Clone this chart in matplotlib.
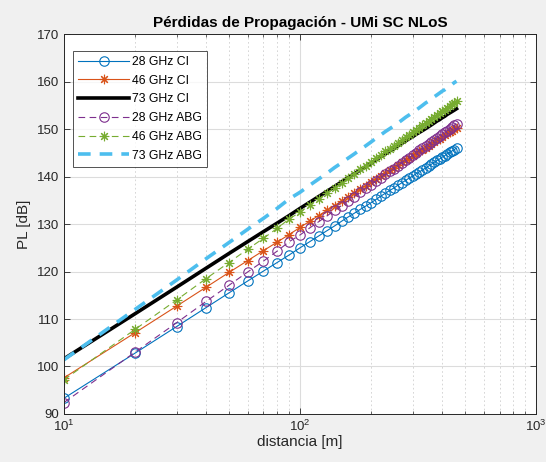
import matplotlib
matplotlib.use("Agg")
import matplotlib.pyplot as plt
from matplotlib.ticker import LogLocator, NullFormatter

plt.rcParams['font.family'] = ['Liberation Sans', 'DejaVu Sans']
plt.rcParams['mathtext.fontset'] = 'custom'
plt.rcParams['mathtext.rm'] = 'Liberation Sans'
plt.rcParams['mathtext.it'] = 'Liberation Sans:italic'
plt.rcParams['mathtext.bf'] = 'Liberation Sans:bold'

# distance axis [m]
distancia = list(range(10, 461, 10))

# path loss [dB], close-in (CI) model
pl_28_ci = [93.3, 102.8, 108.4, 112.4, 115.5, 118.0, 120.1, 121.9, 123.5, 125.0,
            126.3, 127.5, 128.6, 129.6, 130.6, 131.5, 132.3, 133.1, 133.8, 134.5,
            135.2, 135.9, 136.5, 137.1, 137.6, 138.2, 138.7, 139.2, 139.7, 140.1,
            140.6, 141.0, 141.4, 141.8, 142.2, 142.6, 143.0, 143.4, 143.7, 144.1,
            144.4, 144.8, 145.1, 145.4, 145.7, 146.0]
pl_46_ci = [97.6, 107.1, 112.7, 116.7, 119.8, 122.3, 124.4, 126.2, 127.8, 129.3,
            130.6, 131.8, 132.9, 133.9, 134.9, 135.8, 136.6, 137.4, 138.1, 138.8,
            139.5, 140.2, 140.8, 141.4, 141.9, 142.5, 143.0, 143.5, 144.0, 144.4,
            144.9, 145.3, 145.7, 146.1, 146.5, 146.9, 147.3, 147.7, 148.0, 148.4,
            148.7, 149.1, 149.4, 149.7, 150.0, 150.3]
pl_73_ci = [101.6, 111.1, 116.7, 120.7, 123.8, 126.3, 128.4, 130.2, 131.8, 133.3,
            134.6, 135.8, 136.9, 137.9, 138.9, 139.8, 140.6, 141.4, 142.1, 142.8,
            143.5, 144.2, 144.8, 145.4, 145.9, 146.5, 147.0, 147.5, 148.0, 148.4,
            148.9, 149.3, 149.7, 150.1, 150.5, 150.9, 151.3, 151.7, 152.0, 152.4,
            152.7, 153.1, 153.4, 153.7, 154.0, 154.3]

# path loss [dB], alpha-beta-gamma (ABG) model
pl_28_abg = [92.4, 103.0, 109.2, 113.7, 117.1, 119.9, 122.2, 124.3, 126.3, 127.7,
             129.2, 130.5, 131.7, 132.9, 133.9, 134.9, 135.8, 136.7, 137.5, 138.3,
             139.1, 139.8, 140.5, 141.1, 141.7, 142.3, 142.9, 143.5, 144.0, 144.5,
             145.0, 145.5, 146.0, 146.5, 146.9, 147.3, 147.8, 148.2, 148.6, 149.0,
             149.3, 149.7, 150.1, 150.4, 150.8, 151.1]
pl_46_abg = [97.2, 107.8, 114.0, 118.5, 121.9, 124.7, 127.0, 129.1, 131.1, 132.5,
             134.0, 135.3, 136.5, 137.7, 138.7, 139.7, 140.6, 141.5, 142.3, 143.1,
             143.9, 144.6, 145.3, 145.9, 146.5, 147.1, 147.7, 148.3, 148.8, 149.3,
             149.8, 150.3, 150.8, 151.3, 151.7, 152.1, 152.6, 153.0, 153.4, 153.8,
             154.1, 154.5, 154.9, 155.2, 155.6, 155.9]
pl_73_abg = [101.4, 112.0, 118.2, 122.7, 126.1, 128.9, 131.2, 133.3, 135.3, 136.7,
             138.2, 139.5, 140.7, 141.9, 142.9, 143.9, 144.8, 145.7, 146.5, 147.3,
             148.1, 148.8, 149.5, 150.1, 150.7, 151.3, 151.9, 152.5, 153.0, 153.5,
             154.0, 154.5, 155.0, 155.5, 155.9, 156.3, 156.8, 157.2, 157.6, 158.0,
             158.3, 158.7, 159.1, 159.4, 159.8, 160.1]

y_ticks = [90, 100, 110, 120, 130, 140, 150, 160, 170]

c_blue = '#0072BD'
c_orange = '#D95319'
c_purple = '#7E2F8E'
c_green = '#77AC30'
c_cyan = '#4DBEEE'

asterisk = (8, 2, 0)  # line-drawn asterisk marker

fig = plt.figure(figsize=(5.46, 4.62), dpi=100, facecolor='#f0f0f0')
ax = fig.add_axes([0.117, 0.104, 0.865, 0.822])
ax.set_facecolor('white')

ms = 6.8
ax.semilogx(distancia, pl_28_ci, '-', marker='o', color=c_blue, lw=0.8, ms=ms,
            mfc='none', mew=0.8, label='28 GHz CI')
ax.semilogx(distancia, pl_46_ci, '-', marker=asterisk, color=c_orange, lw=0.8,
            ms=ms, mew=0.8, label='46 GHz CI')
ax.semilogx(distancia, pl_73_ci, '-', color='black', lw=2.6, label='73 GHz CI')
ax.semilogx(distancia, pl_28_abg, '--', marker='o', color=c_purple, lw=0.8, ms=ms,
            mfc='none', mew=0.8, dashes=(6, 4), label='28 GHz ABG')
ax.semilogx(distancia, pl_46_abg, '--', marker=asterisk, color=c_green, lw=0.8,
            ms=ms, mew=0.8, dashes=(6, 4), label='46 GHz ABG')
ax.semilogx(distancia, pl_73_abg, '--', color=c_cyan, lw=2.6, dashes=(3.5, 2.5),
            label='73 GHz ABG')

ax.set_xlim(10, 1000)
ax.set_ylim(90, 170)
ax.set_yticks(y_ticks)
ax.xaxis.set_major_locator(LogLocator(base=10, numticks=10))
ax.xaxis.set_minor_locator(LogLocator(base=10, subs=range(2, 10), numticks=20))
ax.xaxis.set_minor_formatter(NullFormatter())

ax.grid(True, which='major', color='#dcdcdc', lw=0.8, ls='-')
ax.grid(True, which='minor', axis='x', color='#d0d0d0', lw=0.6, ls=(0, (2, 3)))
ax.set_axisbelow(True)

ax.tick_params(which='both', direction='in', top=True, right=True,
               colors='#262626', labelsize=9.5)
ax.tick_params(which='major', length=4, width=0.6)
ax.tick_params(which='minor', length=2, width=0.5)
for s in ax.spines.values():
    s.set_color('#262626')
    s.set_linewidth(0.7)

ax.set_title('Pérdidas de Propagación - UMi SC NLoS', fontsize=11,
             fontweight='bold', color='black', pad=5)
ax.set_xlabel('distancia [m]', fontsize=11, color='#262626', labelpad=1)
ax.set_ylabel('PL [dB]', fontsize=11, color='#262626', labelpad=4)

leg = ax.legend(loc='upper left', bbox_to_anchor=(0.012, 0.965), fontsize=8.8,
                frameon=True, fancybox=False, edgecolor='#262626',
                handlelength=4.2, handletextpad=0.2, borderpad=0.4,
                labelspacing=0.55, borderaxespad=0.3)
leg.get_frame().set_linewidth(0.7)

fig.savefig('out.png', dpi=100, facecolor=fig.get_facecolor())
